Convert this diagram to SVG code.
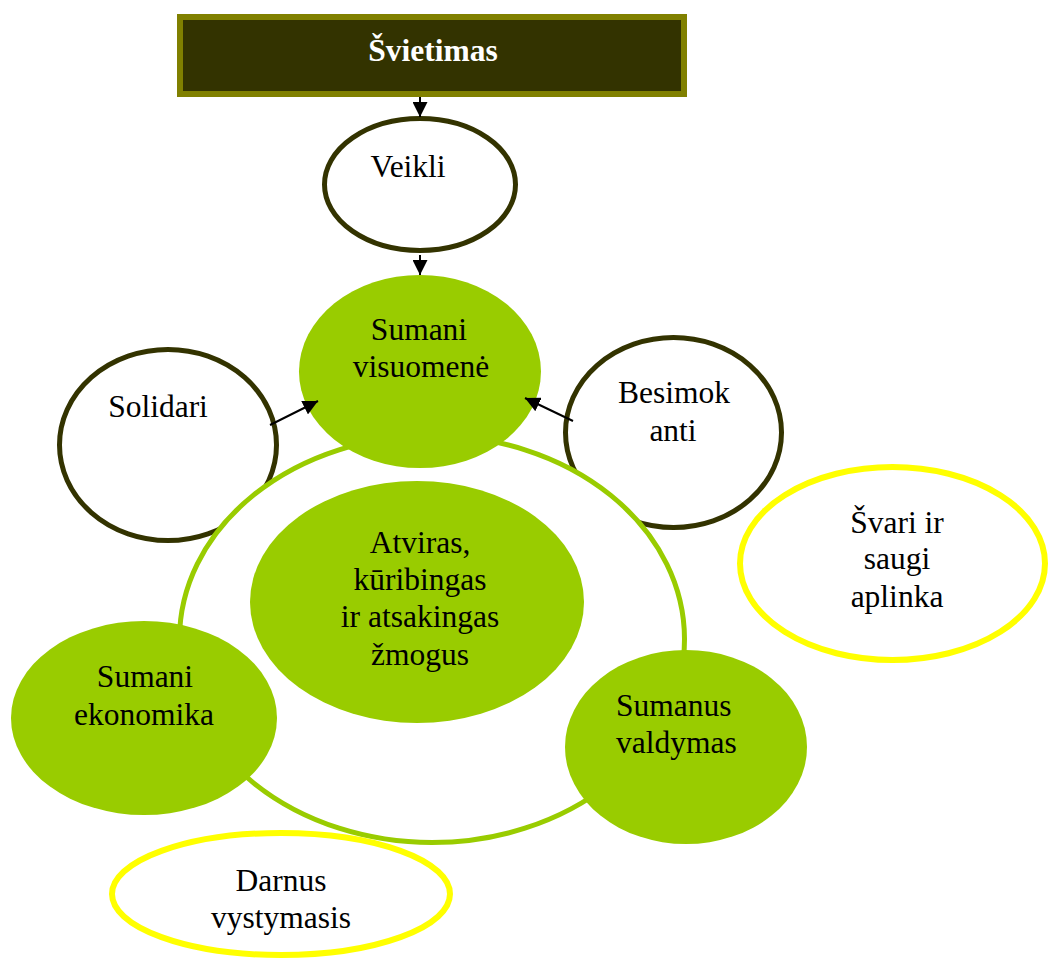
<svg xmlns="http://www.w3.org/2000/svg" width="1049" height="959" viewBox="0 0 1049 959">
<style>
text{font-family:"Liberation Serif","Times New Roman",serif;font-size:31.5px;fill:#000;text-anchor:middle}
.dark{fill:#fff;stroke:#333300;stroke-width:5}
.green{fill:#99CC00;stroke:none}
.yellow{fill:#fff;stroke:#FFFF00;stroke-width:6}
.ring{fill:#fff;stroke:#99CC00;stroke-width:5}
.conn{stroke:#000;stroke-width:2;fill:none;marker-end:url(#arr)}
</style>
<defs>
<marker id="arr" markerUnits="userSpaceOnUse" markerWidth="15" markerHeight="15" refX="15" refY="7.5" orient="auto" viewBox="0 0 15 15">
<path d="M0,0 L15,7.5 L0,15 z" fill="#000"/>
</marker>
</defs>
<rect width="1049" height="959" fill="#fff"/>
<g id="svietimas">
<rect x="180" y="17" width="504" height="77" fill="#333300" stroke="#808000" stroke-width="6"/>
<text x="433" y="61" style="fill:#fff;font-weight:bold">Švietimas</text>
</g>
<g id="solidari">
<ellipse class="dark" cx="168" cy="445" rx="108.5" ry="95.5"/>
<text x="158" y="417">Solidari</text>
</g>
<g id="besimokanti">
<ellipse class="dark" cx="673.5" cy="432.5" rx="108" ry="95"/>
<text x="674" y="403">Besimok</text>
<text x="673" y="441">anti</text>
</g>
<g id="veikli">
<ellipse class="dark" cx="420" cy="184.5" rx="95.5" ry="66"/>
<text x="408" y="177">Veikli</text>
</g>
<g id="ring">
<ellipse class="ring" cx="432" cy="639" rx="252.5" ry="203.5"/>
</g>
<g id="sumani-visuomene">
<ellipse class="green" cx="420" cy="371.5" rx="121" ry="96.5"/>
<text x="419" y="340">Sumani</text>
<text x="421" y="377">visuomenė</text>
</g>
<g id="zmogus">
<ellipse class="green" cx="417" cy="602" rx="167" ry="121"/>
<text x="420" y="553">Atviras,</text>
<text x="420" y="590">kūribingas</text>
<text x="420" y="627">ir atsakingas</text>
<text x="420" y="665">žmogus</text>
</g>
<g id="sumani-ekonomika">
<ellipse class="green" cx="144" cy="718" rx="133" ry="97"/>
<text x="145" y="687">Sumani</text>
<text x="144" y="725">ekonomika</text>
</g>
<g id="sumanus-valdymas">
<ellipse class="green" cx="686" cy="747" rx="121" ry="97"/>
<text x="616" y="716" style="text-anchor:start">Sumanus</text>
<text x="616" y="753" style="text-anchor:start">valdymas</text>
</g>
<g id="svari-aplinka">
<ellipse class="yellow" cx="892.5" cy="563.5" rx="152.5" ry="96.5"/>
<text x="897" y="533">Švari ir</text>
<text x="897" y="569">saugi</text>
<text x="897" y="607">aplinka</text>
</g>
<g id="darnus-vystymasis">
<ellipse class="yellow" cx="281" cy="894" rx="169" ry="61"/>
<text x="281" y="891">Darnus</text>
<text x="281" y="928">vystymasis</text>
</g>
<g id="connectors">
<line class="conn" x1="420" y1="97" x2="420" y2="117"/>
<line class="conn" x1="420" y1="255" x2="420" y2="275"/>
<line class="conn" x1="270" y1="425" x2="318" y2="401"/>
<line class="conn" x1="573" y1="421" x2="525" y2="398"/>
</g>
</svg>
